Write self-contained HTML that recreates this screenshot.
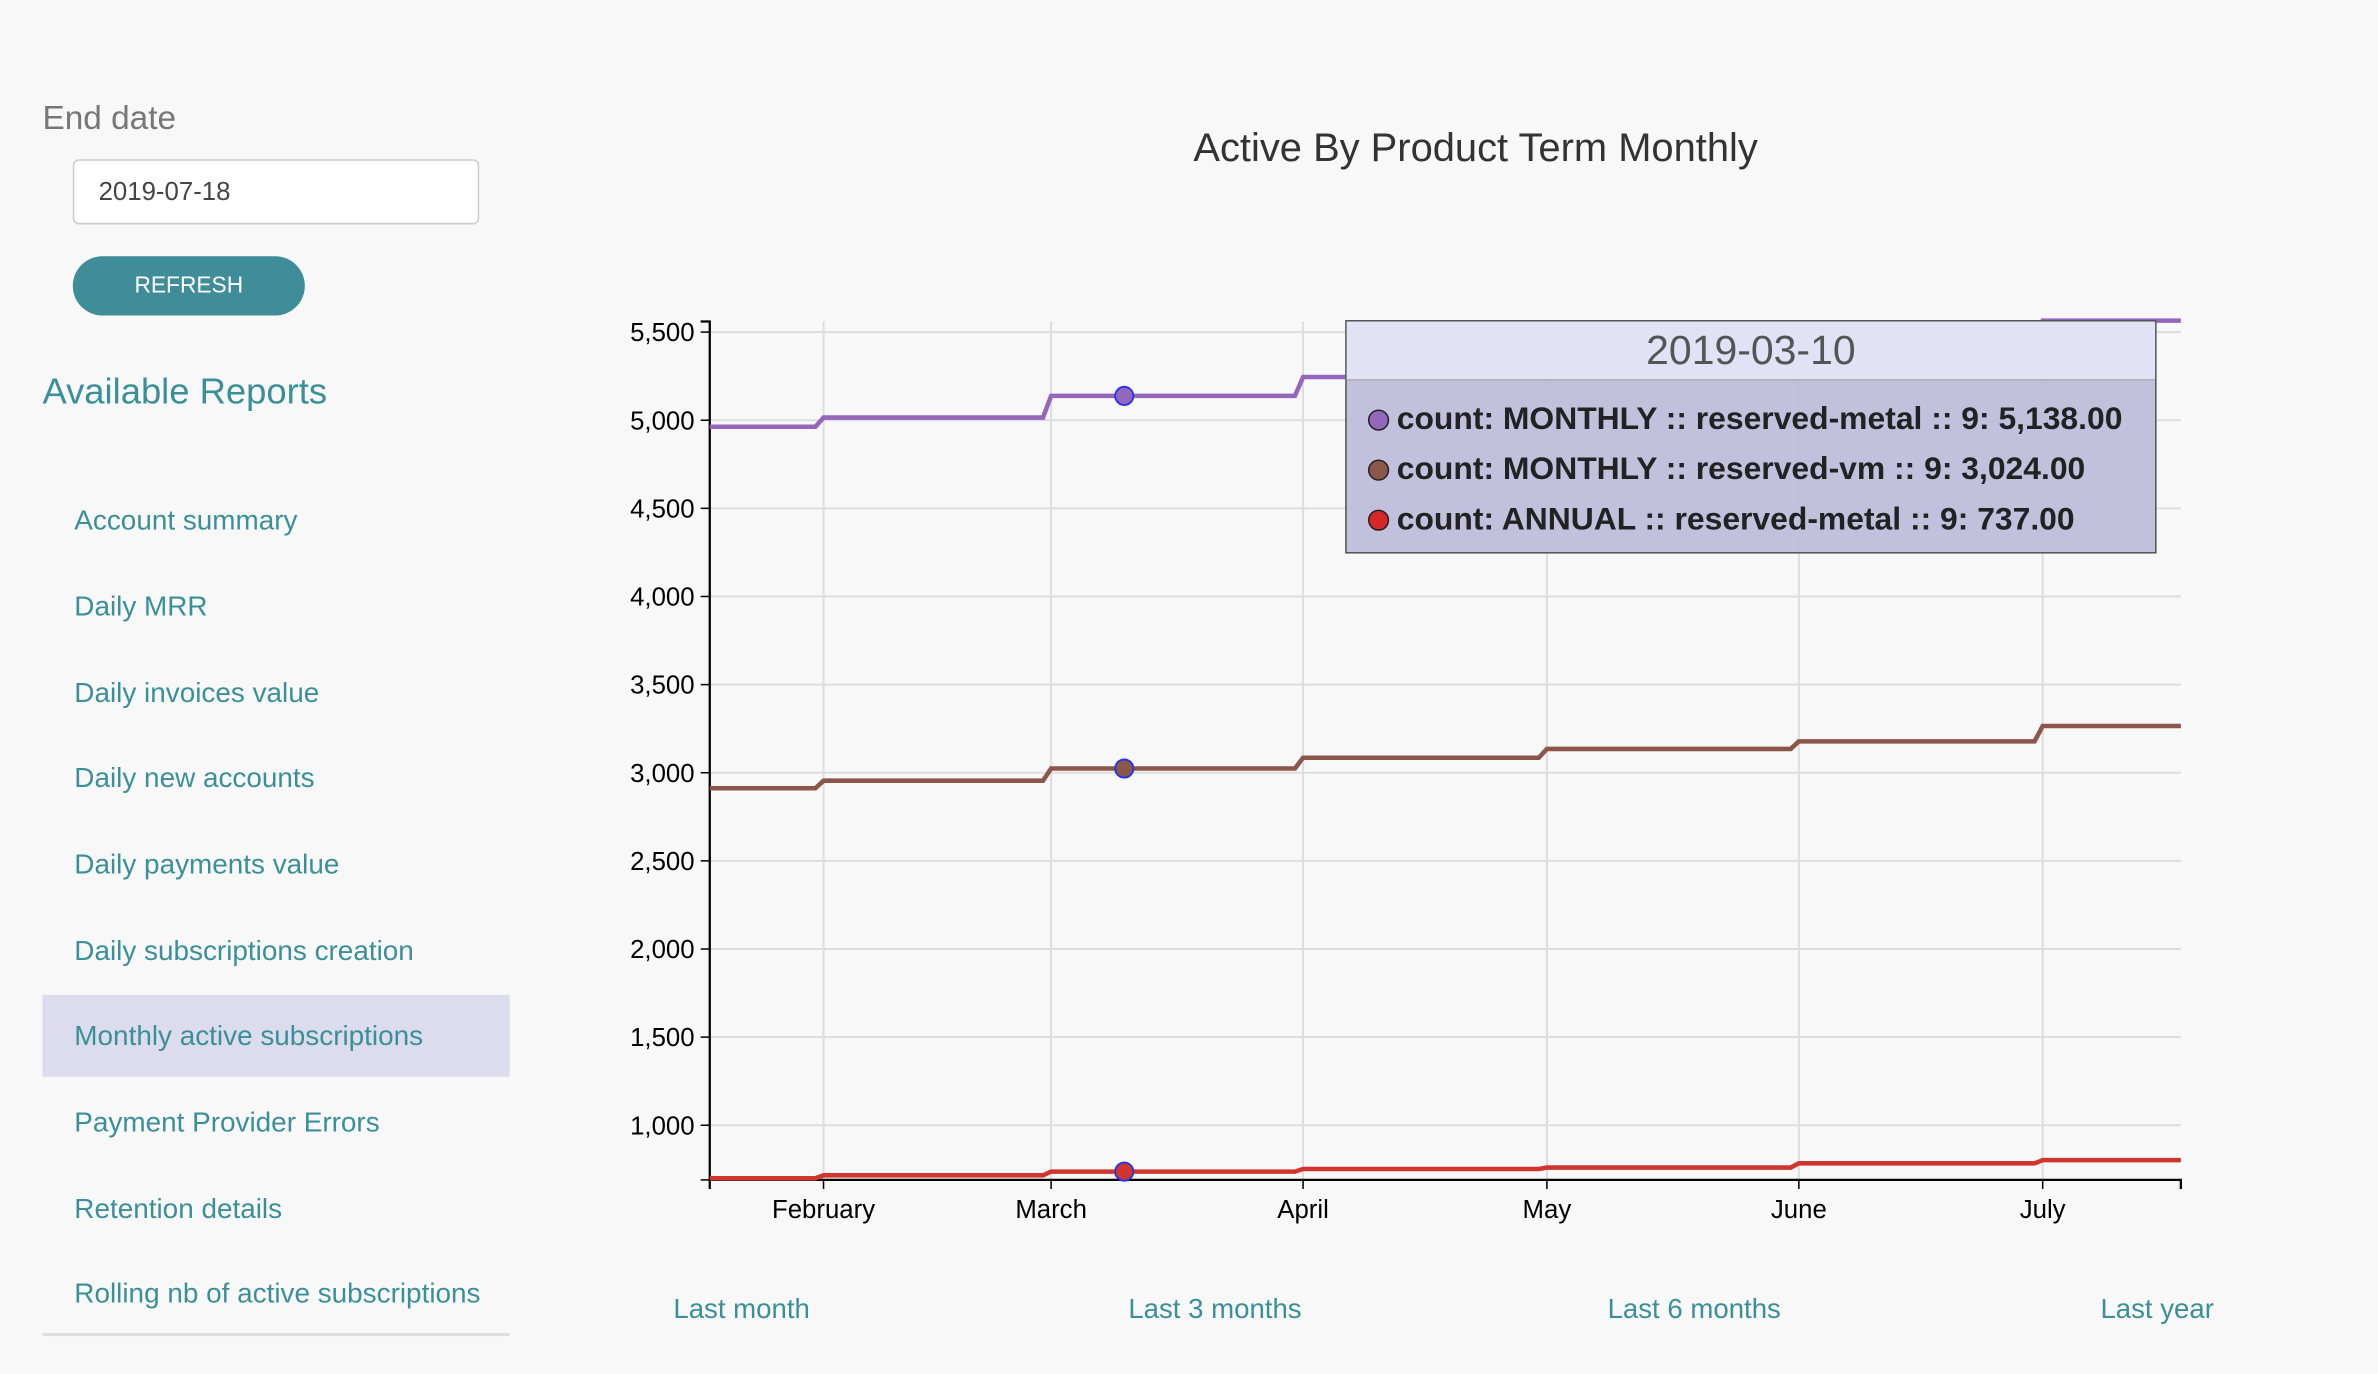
<!DOCTYPE html>
<html><head><meta charset="utf-8">
<style>
html,body{margin:0;padding:0;background:#f8f8f8;overflow:hidden;width:2378px;height:1374px}
#wrap{position:absolute;left:0;top:0;width:1568px;height:906px;transform:scale(1.51658);transform-origin:0 0;font-family:"Liberation Sans",sans-serif}
.abs{position:absolute}
.item{position:absolute;left:49px;font-size:18.4px;color:#3a8f99;line-height:22px}
.link{position:absolute;top:853px;font-size:18.2px;color:#3a8f99}
.row{position:absolute;left:902px;font-size:21px;font-weight:bold;color:#222;white-space:nowrap}
.dot{display:inline-block;width:12px;height:12px;border-radius:50%;border:1.5px solid #222;margin-right:5px;vertical-align:-1px}
</style></head><body>
<div id="wrap">
<div class="abs" style="left:28px;top:65px;font-size:22px;color:#777">End date</div>
<div class="abs" style="left:48px;top:105px;width:268px;height:43px;background:#fff;border:1px solid #ccc;border-radius:4px;box-sizing:border-box;font-size:17px;color:#444;line-height:42px;padding-left:16px">2019-07-18</div>
<div class="abs" style="left:48px;top:169px;width:153px;height:39px;background:#3f8d99;border-radius:20px;color:#fff;font-size:15px;text-align:center;line-height:40px">REFRESH</div>
<div class="abs" style="left:28px;top:245px;font-size:24px;color:#3a8f99">Available Reports</div>
<div class="abs" style="left:28px;top:656px;width:308px;height:54px;background:#dcdcee"></div>
<div class="item" style="top:332px">Account summary</div>
<div class="item" style="top:389px">Daily MRR</div>
<div class="item" style="top:446px">Daily invoices value</div>
<div class="item" style="top:502px">Daily new accounts</div>
<div class="item" style="top:559px">Daily payments value</div>
<div class="item" style="top:616px">Daily subscriptions creation</div>
<div class="item" style="top:672px">Monthly active subscriptions</div>
<div class="item" style="top:729px">Payment Provider Errors</div>
<div class="item" style="top:786px">Retention details</div>
<div class="item" style="top:842px">Rolling nb of active subscriptions</div>
<div class="abs" style="left:28px;top:879px;width:308px;height:2px;background:#ddd"></div>

<div class="abs" style="left:673px;width:600px;text-align:center;top:82px;font-size:26.3px;color:#333">Active By Product Term Monthly</div>

<svg class="abs" style="left:0;top:0" width="1568" height="906" id="chart"></svg>

<div class="abs" style="left:887px;top:211px;width:535px;height:154px;background:rgba(190,190,220,0.95);border:1px solid #555;box-sizing:border-box"></div>
<div class="abs" style="left:888px;top:212px;width:533px;height:38px;background:#e2e2f6;border-bottom:1px solid #aaa;text-align:center;font-size:27px;line-height:38px;color:#555">2019-03-10</div>
<div class="row" style="top:265px"><span class="dot" style="background:#9467bd"></span>count: MONTHLY :: reserved-metal :: 9: 5,138.00</div>
<div class="row" style="top:298px"><span class="dot" style="background:#8c564b"></span>count: MONTHLY :: reserved-vm :: 9: 3,024.00</div>
<div class="row" style="top:331px"><span class="dot" style="background:#d62728"></span>count: ANNUAL :: reserved-metal :: 9: 737.00</div>

<div class="link" style="left:444px">Last month</div>
<div class="link" style="left:744px">Last 3 months</div>
<div class="link" style="left:1060px">Last 6 months</div>
<div class="link" style="left:1385px">Last year</div>
</div>
<script>
const stepDates = ["2019-01-18","2019-02-01","2019-03-01","2019-04-01","2019-05-01","2019-06-01","2019-07-01"];
const monthlyMetal = [4963,5015,5138,5245,5340,5440,5565];
const monthlyVm = [2912,2955,3024,3085,3135,3178,3265];
const annualMetal = [699,716,737,752,760,784,802];
const yTicks = [1000,1500,2000,2500,3000,3500,4000,4500,5000,5500];
const xTickDates = ["2019-02-01","2019-03-01","2019-04-01","2019-05-01","2019-06-01","2019-07-01"];
const xTickLabels = ["February","March","April","May","June","July"];
const hoverDate = "2019-03-10";

const NS="http://www.w3.org/2000/svg";
const svg=document.getElementById('chart');
const X0=468,X1=1438,Y0=778,Y1=212;
const d0=Date.parse("2019-01-18"),d1=Date.parse("2019-07-18");
const yMin=690,yMax=5560;
const xs=d=>X0+(Date.parse(d)-d0)/(d1-d0)*(X1-X0);
const xsT=t=>X0+(t-d0)/(d1-d0)*(X1-X0);
const ys=v=>Y0-(v-yMin)/(yMax-yMin)*(Y0-Y1);
function el(tag,attrs){const e=document.createElementNS(NS,tag);for(const k in attrs)e.setAttribute(k,attrs[k]);svg.appendChild(e);return e;}
yTicks.forEach(v=>{
  const g=el('line',{x1:X0,x2:X1,y1:ys(v),y2:ys(v),stroke:'#ddd','stroke-width':1.3});
  
  
  const t=el('line',{x1:X0-6,x2:X0,y1:ys(v),y2:ys(v),stroke:'#000'});
  
  
  const l=el('text',{x:X0-10,y:ys(v)+6,'text-anchor':'end','font-size':17,fill:'#000'});
  l.textContent=v.toLocaleString('en-US');
  
  
});
xTickDates.forEach((d,i)=>{
  const g=el('line',{x1:xs(d),x2:xs(d),y1:Y1,y2:Y0,stroke:'#ddd','stroke-width':1.3});
  
  
  const t=el('line',{x1:xs(d),x2:xs(d),y1:Y0,y2:Y0+6,stroke:'#000'});
  
  
  const l=el('text',{x:xs(d),y:Y0+25,'text-anchor':'middle','font-size':17,fill:'#000'});
  l.textContent=xTickLabels[i];
  
  
});
const ya=el('path',{d:`M${X0-6},${Y1}H${X0}V${Y0+6}`,fill:'none',stroke:'#000','stroke-width':1.5});


const bt=el('line',{x1:X0-6,x2:X0,y1:Y0,y2:Y0,stroke:'#000'});


const xa=el('path',{d:`M${X0},${Y0}H${X1}V${Y0+6}`,fill:'none',stroke:'#000','stroke-width':1.5});


const DAY=86400000;
function drawSeries(vals,color,name){
  let d=`M${X0},${ys(vals[0])}`;
  for(let i=1;i<vals.length;i++){
    const t=Date.parse(stepDates[i]);
    d+=`L${xsT(t-DAY)},${ys(vals[i-1])}L${xsT(t)},${ys(vals[i])}`;
  }
  d+=`L${X1},${ys(vals[vals.length-1])}`;
  const p=el('path',{d:d,fill:'none',stroke:color,'stroke-width':3});
  
  
  const ht=Date.parse(hoverDate);let v=vals[0];
  stepDates.forEach((s,i)=>{if(Date.parse(s)<=ht)v=vals[i];});
  const c=el('circle',{cx:xs(hoverDate),cy:ys(v),r:6,fill:color,stroke:'#2233ee','stroke-width':1.2});
  
  
}
drawSeries(monthlyMetal,'#9467bd','series-monthly-reserved-metal');
drawSeries(monthlyVm,'#8c564b','series-monthly-reserved-vm');
drawSeries(annualMetal,'#d0352f','series-annual-reserved-metal');
</script>
</body></html>
